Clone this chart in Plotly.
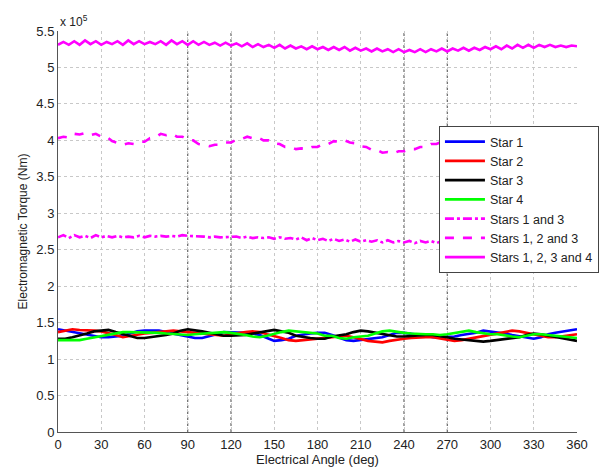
import numpy as np
import plotly.graph_objects as go

# Electrical angle grids (deg)
angle_coarse = np.arange(0, 361, 5)          # 73 points
angle_fine = np.arange(0, 360.01, 3.75)      # 97 points

# Torque values in units of 1e5 Nm
star1 = [1.41, 1.39, 1.37, 1.35, 1.33, 1.31, 1.30, 1.30, 1.31, 1.32, 1.35, 1.38, 1.39, 1.39, 1.39, 1.37,
         1.35, 1.33, 1.30, 1.29, 1.29, 1.31, 1.34, 1.37, 1.37, 1.37, 1.36, 1.35, 1.33, 1.29, 1.25, 1.26,
         1.28, 1.32, 1.34, 1.35, 1.36, 1.36, 1.33, 1.30, 1.26, 1.25, 1.26, 1.27, 1.28, 1.30, 1.33, 1.36,
         1.36, 1.35, 1.34, 1.32, 1.30, 1.30, 1.30, 1.31, 1.33, 1.34, 1.36, 1.39, 1.38, 1.37, 1.35, 1.33,
         1.31, 1.29, 1.28, 1.30, 1.34, 1.36, 1.38, 1.40, 1.41]
star2 = [1.37, 1.39, 1.41, 1.40, 1.40, 1.39, 1.38, 1.36, 1.33, 1.30, 1.32, 1.34, 1.35, 1.36, 1.37, 1.38,
         1.39, 1.38, 1.37, 1.36, 1.35, 1.34, 1.33, 1.32, 1.34, 1.36, 1.37, 1.38, 1.37, 1.34, 1.32, 1.29,
         1.26, 1.25, 1.26, 1.27, 1.28, 1.30, 1.30, 1.31, 1.32, 1.30, 1.27, 1.25, 1.24, 1.23, 1.25, 1.27,
         1.28, 1.29, 1.30, 1.30, 1.30, 1.28, 1.26, 1.25, 1.26, 1.28, 1.30, 1.32, 1.34, 1.36, 1.38, 1.39,
         1.38, 1.36, 1.34, 1.32, 1.30, 1.30, 1.31, 1.33, 1.34]
star3 = [1.28, 1.28, 1.30, 1.32, 1.35, 1.38, 1.39, 1.40, 1.37, 1.34, 1.31, 1.29, 1.29, 1.30, 1.31, 1.33,
         1.35, 1.39, 1.41, 1.40, 1.38, 1.36, 1.34, 1.32, 1.32, 1.32, 1.33, 1.35, 1.37, 1.39, 1.40, 1.38,
         1.36, 1.32, 1.30, 1.29, 1.28, 1.28, 1.31, 1.32, 1.34, 1.37, 1.39, 1.38, 1.36, 1.34, 1.32, 1.31,
         1.31, 1.32, 1.33, 1.33, 1.33, 1.32, 1.30, 1.28, 1.27, 1.26, 1.25, 1.24, 1.25, 1.26, 1.27, 1.28,
         1.30, 1.33, 1.35, 1.34, 1.32, 1.30, 1.28, 1.26, 1.25]
star4 = [1.26, 1.26, 1.25, 1.26, 1.28, 1.30, 1.32, 1.34, 1.35, 1.37, 1.37, 1.37, 1.37, 1.37, 1.36, 1.35,
         1.34, 1.33, 1.33, 1.34, 1.35, 1.36, 1.36, 1.37, 1.36, 1.35, 1.33, 1.31, 1.30, 1.32, 1.35, 1.37,
         1.39, 1.38, 1.37, 1.36, 1.35, 1.32, 1.32, 1.29, 1.28, 1.30, 1.31, 1.32, 1.35, 1.38, 1.39, 1.37,
         1.36, 1.35, 1.34, 1.34, 1.34, 1.33, 1.34, 1.36, 1.38, 1.39, 1.37, 1.35, 1.34, 1.34, 1.32, 1.31,
         1.30, 1.32, 1.34, 1.34, 1.33, 1.32, 1.31, 1.30, 1.29]
stars_13 = [2.67, 2.70, 2.66, 2.70, 2.67, 2.69, 2.66, 2.70, 2.67, 2.69, 2.67, 2.69, 2.67, 2.68, 2.67, 2.69,
            2.67, 2.69, 2.68, 2.69, 2.68, 2.69, 2.68, 2.70, 2.69, 2.69, 2.68, 2.68, 2.67, 2.68, 2.67, 2.67,
            2.67, 2.68, 2.66, 2.68, 2.66, 2.67, 2.66, 2.67, 2.65, 2.67, 2.65, 2.66, 2.64, 2.67, 2.63, 2.66,
            2.63, 2.65, 2.62, 2.65, 2.62, 2.64, 2.61, 2.64, 2.61, 2.63, 2.61, 2.63, 2.60, 2.63, 2.60, 2.62,
            2.60, 2.62, 2.59, 2.62, 2.60, 2.62, 2.59, 2.62, 2.60, 2.61, 2.59, 2.61, 2.59, 2.61, 2.59, 2.61,
            2.59, 2.61, 2.59, 2.61, 2.59, 2.61, 2.59, 2.61, 2.59, 2.61, 2.59, 2.61, 2.59, 2.61, 2.59, 2.61,
            2.60]
stars_123 = [4.03, 4.05, 4.04, 4.09, 4.08, 4.10, 4.07, 4.09, 4.05, 4.05, 3.99, 3.97, 3.94, 3.96, 3.95, 3.98,
             3.98, 4.03, 4.04, 4.09, 4.07, 4.09, 4.05, 4.05, 4.01, 4.00, 3.95, 3.94, 3.92, 3.94, 3.94, 3.97,
             3.97, 4.01, 4.02, 4.05, 4.03, 4.04, 4.00, 4.00, 3.96, 3.95, 3.91, 3.91, 3.88, 3.89, 3.88, 3.91,
             3.91, 3.95, 3.95, 3.99, 3.98, 4.00, 3.97, 3.96, 3.92, 3.91, 3.87, 3.87, 3.83, 3.84, 3.82, 3.85,
             3.85, 3.88, 3.88, 3.91, 3.91, 3.95, 3.95, 3.98, 3.97, 3.99, 3.97, 3.97, 3.94, 3.93, 3.90, 3.90,
             3.87, 3.88, 3.86, 3.88, 3.88, 3.91, 3.91, 3.94, 3.94, 3.97, 3.97, 4.00, 3.99, 4.02, 4.01, 4.03,
             4.02]
stars_1234 = [5.31, 5.35, 5.31, 5.36, 5.31, 5.37, 5.32, 5.36, 5.31, 5.35, 5.32, 5.36, 5.31, 5.37, 5.32, 5.36,
              5.32, 5.35, 5.32, 5.36, 5.31, 5.37, 5.32, 5.36, 5.31, 5.36, 5.31, 5.35, 5.31, 5.34, 5.30, 5.34,
              5.30, 5.33, 5.29, 5.33, 5.28, 5.32, 5.28, 5.31, 5.27, 5.31, 5.26, 5.30, 5.26, 5.29, 5.25, 5.29,
              5.25, 5.28, 5.24, 5.28, 5.24, 5.28, 5.23, 5.27, 5.23, 5.26, 5.22, 5.26, 5.22, 5.25, 5.21, 5.25,
              5.21, 5.24, 5.21, 5.25, 5.21, 5.25, 5.22, 5.26, 5.22, 5.26, 5.23, 5.27, 5.23, 5.27, 5.24, 5.28,
              5.25, 5.29, 5.25, 5.30, 5.26, 5.31, 5.27, 5.31, 5.27, 5.31, 5.28, 5.31, 5.28, 5.30, 5.28, 5.30,
              5.29]

x_ticks = list(range(0, 361, 30))
y_ticks = [0, 0.5, 1, 1.5, 2, 2.5, 3, 3.5, 4, 4.5, 5, 5.5]
y_ticklabels = ["0", "0.5", "1", "1.5", "2", "2.5", "3", "3.5", "4", "4.5", "5", "5.5"]
marker_angles = [90, 120, 240, 270]

series = [
    ("Star 1", angle_coarse, star1, "#0000ff", "solid"),
    ("Star 2", angle_coarse, star2, "#ff0000", "solid"),
    ("Star 3", angle_coarse, star3, "#000000", "solid"),
    ("Star 4", angle_coarse, star4, "#00ff00", "solid"),
    ("Stars 1 and 3", angle_fine, stars_13, "#ff00ff", "dashdot"),
    ("Stars 1, 2 and 3", angle_fine, stars_123, "#ff00ff", "dash"),
    ("Stars 1, 2, 3 and 4", angle_fine, stars_1234, "#ff00ff", "solid"),
]

fig = go.Figure()
for name, x, y, color, dash in series:
    fig.add_trace(go.Scatter(x=x, y=y, mode="lines", name=name,
                             line=dict(color=color, width=2.6, dash=dash)))

for a in marker_angles:
    fig.add_shape(type="line", xref="x", yref="paper", x0=a, x1=a, y0=0, y1=1,
                  line=dict(color="#444444", width=1, dash="dot"), layer="below")

font = "Liberation Sans, Arial, sans-serif"
fig.update_layout(
    width=611, height=476,
    margin=dict(l=58, r=34, t=31, b=36),
    paper_bgcolor="white", plot_bgcolor="white",
    font=dict(family=font, size=13, color="#222222"),
    showlegend=True,
    legend=dict(x=0.734, y=0.763, xanchor="left", yanchor="top",
                bgcolor="white", bordercolor="#444444", borderwidth=1,
                font=dict(family=font, size=12.5, color="#222222"),
                tracegroupgap=0, itemwidth=40),
    xaxis=dict(range=[0, 360], tickvals=x_ticks, showgrid=True, gridcolor="#c8c8c8",
               griddash="dot", gridwidth=1, showline=True, linecolor="#555555", linewidth=1,
               zeroline=False, ticks="", tickfont=dict(size=13),
               title=dict(text="Electrical Angle (deg)", font=dict(size=13), standoff=3)),
    yaxis=dict(range=[0, 5.5], tickvals=y_ticks, ticktext=y_ticklabels, showgrid=True,
               gridcolor="#c8c8c8", griddash="dot", gridwidth=1, showline=True,
               linecolor="#555555", linewidth=1, zeroline=False, ticks="",
               tickfont=dict(size=13),
               title=dict(text="Electromagnetic Torque (Nm)", font=dict(size=12), standoff=6)),
)
fig.add_annotation(text="x 10<sup>5</sup>", xref="paper", yref="paper", x=0, y=1.0,
                   xanchor="left", yanchor="bottom", showarrow=False,
                   font=dict(family=font, size=12, color="#222222"), yshift=0)

fig.write_html("out.html")
